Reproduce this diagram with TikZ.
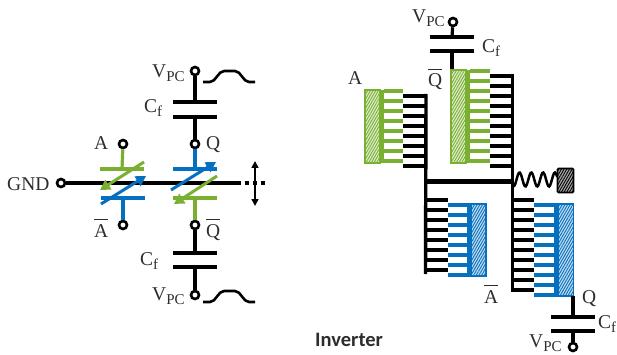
\documentclass[tikz,border=0pt]{standalone}
\usepackage{fontspec}
\setmainfont{Liberation Serif}
\newfontfamily\invfont{Carlito}
\usetikzlibrary{arrows.meta,patterns.meta}
\definecolor{gr}{RGB}{122,176,50}
\definecolor{bl}{RGB}{5,112,192}
\definecolor{txt}{RGB}{45,45,45}
\newcommand{\vpclabel}{V\raisebox{-4pt}{\fontsize{15}{15}\selectfont PC}}
\newcommand{\cflabel}{C\raisebox{-4pt}{\fontsize{15}{15}\selectfont f}}
\newcommand{\barlabel}[1]{$\overline{\mbox{\rule{0pt}{16.5pt}#1}}$}
\tikzset{
  x=1pt,y=-1pt,
  term/.style={circle,draw=black,line width=2.6pt,fill=white,minimum size=8pt,inner sep=0pt},
  plate/.style={rectangle,fill=#1,minimum width=44pt,minimum height=3.6pt,inner sep=0pt},
  plate/.default=black,
  wire/.style={line width=3.2pt,draw=#1},
  wire/.default=black,
  lbl/.style={anchor=base west,inner sep=0pt,text=txt,font=\fontsize{19.5}{19.5}\selectfont},
  garrow/.style={line width=3pt,draw=#1,-{Triangle[length=10pt,width=11pt]}},
  finger/.style={line width=4pt,draw=#1},
  hatchg/.style={pattern={Lines[angle=60,distance=2.3pt,line width=0.9pt]},pattern color=#1},
}
\newcommand{\comb}[9]{%
  \fill[#1!25!white] (#2,#8) rectangle (#3,#9);
  \fill[hatchg=#1] (#2,#8) rectangle (#3,#9);
  \draw[#1,line width=1.4pt] (#2,#8) rectangle (#3,#9);
  \fill[#1] (#3,#8) rectangle (#4,#9);
  \pgfmathsetmacro{\myN}{#7}
  \foreach \i in {0,...,\myN}{
    \draw[finger=#1] (#4,{#6+10*\i}) -- (#5,{#6+10*\i});
  }
}
\begin{document}
\begin{tikzpicture}
\useasboundingbox (0,0) rectangle (617,355);
%% ---------- left circuit ----------
\node[term] (gnd) at (61,183) {};
\coordinate (busend) at (237,183);
\coordinate (dotend) at (267,183);
\node[term] (vt) at (195,71) {};
\node[plate] (c1a) at (195,102) {};
\node[plate] (c1b) at (195,117) {};
\node[term] (q) at (195,144) {};
\node[plate=bl] (pq) at (195,169) {};
\node[plate=gr] (pqb) at (195,198) {};
\node[term] (qb) at (195,225) {};
\node[plate] (c2a) at (195,253) {};
\node[plate] (c2b) at (195,267) {};
\node[term] (vb) at (195,295) {};
\node[term] (a) at (123,144) {};
\node[plate=gr] (pa) at (122,169) {};
\node[plate=bl] (pab) at (123,198) {};
\node[term] (ab) at (123,225) {};
\draw[wire] (gnd) -- (busend);
\draw[wire,dash pattern=on 4pt off 4pt] (busend) -- (dotend);
\draw[wire] (vt) -- (c1a);
\draw[wire] (c1b) -- (q);
\draw[wire] (qb) -- (c2a);
\draw[wire] (c2b) -- (vb);
\draw[wire=bl] (q) -- (pq);
\draw[wire=gr] (qb) -- (pqb);
\draw[wire=gr] (a) -- (pa);
\draw[wire=bl] (ab) -- (pab);
% variable-capacitor arrows
\coordinate (g1s) at (144,162); \coordinate (g1e) at (100,190);
\coordinate (b1s) at (101,204); \coordinate (b1e) at (146,176);
\coordinate (b2s) at (171,190); \coordinate (b2e) at (216,162);
\coordinate (g2s) at (217,176); \coordinate (g2e) at (174,204);
\draw[garrow=gr] (g1s) -- (g1e);
\draw[garrow=bl] (b1s) -- (b1e);
\draw[garrow=bl] (b2s) -- (b2e);
\draw[garrow=gr] (g2s) -- (g2e);
% double arrow
\coordinate (da) at (255,161); \coordinate (db) at (255,206);
\draw[line width=1.6pt,{Triangle[length=7pt,width=7pt]}-{Triangle[length=7pt,width=7pt]}] (da) -- (db);
% pulses
\draw[line width=2.6pt,line join=round] (203,82) -- (210,82) .. controls (216,82) and (218,71) .. (224,71) -- (235,71) .. controls (241,71) and (243,82) .. (249,82) -- (255,82);
\draw[line width=2.6pt,line join=round] (203,302) -- (210,302) .. controls (216,302) and (218,291) .. (224,291) -- (235,291) .. controls (241,291) and (243,302) .. (249,302) -- (255,302);
% labels
\node[lbl] (lvt) at (152,78) {\vpclabel};
\node[lbl] (lc1) at (144,113) {\cflabel};
\node[lbl] (la) at (94,150) {A};
\node[lbl] (lq) at (206,150) {Q};
\node[lbl] (lgnd) at (7,190) {GND};
\node[lbl] (lab) at (94,237) {\barlabel{A}};
\node[lbl] (lqb) at (206,237) {\barlabel{Q}};
\node[lbl] (lc2) at (140,265) {\cflabel};
\node[lbl] (lvb) at (152,300) {\vpclabel};
%% ---------- right layout ----------
\node[term] (rvt) at (453,22) {};
\node[plate] (rc1a) at (452,37) {};
\node[plate] (rc1b) at (452,51) {};
\coordinate (blk1) at (452,70);
\draw[wire] (rvt) -- (rc1a);
\draw[wire] (rc1b) -- (blk1);
% black spines and fingers
\coordinate (s1t) at (426,94); \coordinate (s1b) at (426,182);
\coordinate (s2t) at (512.5,74); \coordinate (s2b) at (512.5,292);
\coordinate (s3b) at (425.5,274);
\draw[line width=3.4pt] (s1t) -- (s3b);
\draw[line width=3.4pt] (s2t) -- (s2b);
\draw[line width=5pt] (s1b) -- (512.5,182);
\foreach \i in {0,...,7} \draw[finger=black] (403,{96+10*\i}) -- (426,{96+10*\i});
\foreach \i in {0,...,9} \draw[finger=black] (490,{76+10*\i}) -- (512.5,{76+10*\i});
\foreach \i in {0,...,7} \draw[finger=black] (425,{200+10*\i}) -- (448,{200+10*\i});
\foreach \i in {0,...,9} \draw[finger=black] (512.5,{200+10*\i}) -- (534,{200+10*\i});
% coloured combs
\comb{gr}{451}{466}{470}{490}{71}{9}{70}{163}
\comb{gr}{365}{380}{384}{403}{91}{7}{90}{163}
\begin{scope}
\foreach \i in {0,...,7} \draw[finger=bl] (448,{205+10*\i}) -- (467,{205+10*\i});
\fill[bl] (467,203) rectangle (471,277);
\fill[bl!25!white] (471,204) rectangle (486,276);
\fill[hatchg=bl] (471,204) rectangle (486,276);
\draw[bl,line width=1.4pt] (471,204) rectangle (486,276);
\foreach \i in {0,...,9} \draw[finger=bl] (534,{205+10*\i}) -- (554,{205+10*\i});
\fill[bl] (554,203) rectangle (558,297);
\fill[bl!25!white] (558,204) rectangle (573.5,296);
\fill[hatchg=bl] (558,204) rectangle (573.5,296);
\draw[bl,line width=1.4pt] (558,204) rectangle (573.5,296);
\end{scope}
% spring and ground block
\node[rectangle,rounded corners=1pt,draw=black,line width=1.6pt,fill=black!35,minimum width=16pt,minimum height=24pt,inner sep=0pt] (mass) at (565.5,180.5) {};
\fill[hatchg=black] (558,169) rectangle (573.5,192);
\draw[line width=2.5pt,line cap=round] plot[smooth,domain=514:557,samples=45] (\x,{179.5-7*cos(360*(\x-519.5)/11.8)});
% lower capacitor
\coordinate (blk2) at (573,296);
\node[plate] (rc2a) at (573,317) {};
\node[plate] (rc2b) at (573,331) {};
\node[term] (rvb) at (573,347) {};
\draw[wire] (blk2) -- (rc2a);
\draw[wire] (rc2b) -- (rvb);
% labels
\node[lbl] (rlvt) at (412,23) {\vpclabel};
\node[lbl] (rlc1) at (482,53) {\cflabel};
\node[lbl] (rlqb) at (428,87) {\barlabel{Q}};
\node[lbl] (rla) at (348,85) {A};
\node[lbl] (rlab) at (484,303) {\barlabel{A}};
\node[lbl] (rlq) at (582,303) {Q};
\node[lbl] (rlc2) at (598,328) {\cflabel};
\node[lbl] (rlvb) at (529,347.5) {\vpclabel};
\node[anchor=base west,inner sep=0pt,text=txt,font=\invfont\bfseries\fontsize{20.5}{20.5}\selectfont] (inv) at (315,346) {Inverter};
\end{tikzpicture}
\end{document}
